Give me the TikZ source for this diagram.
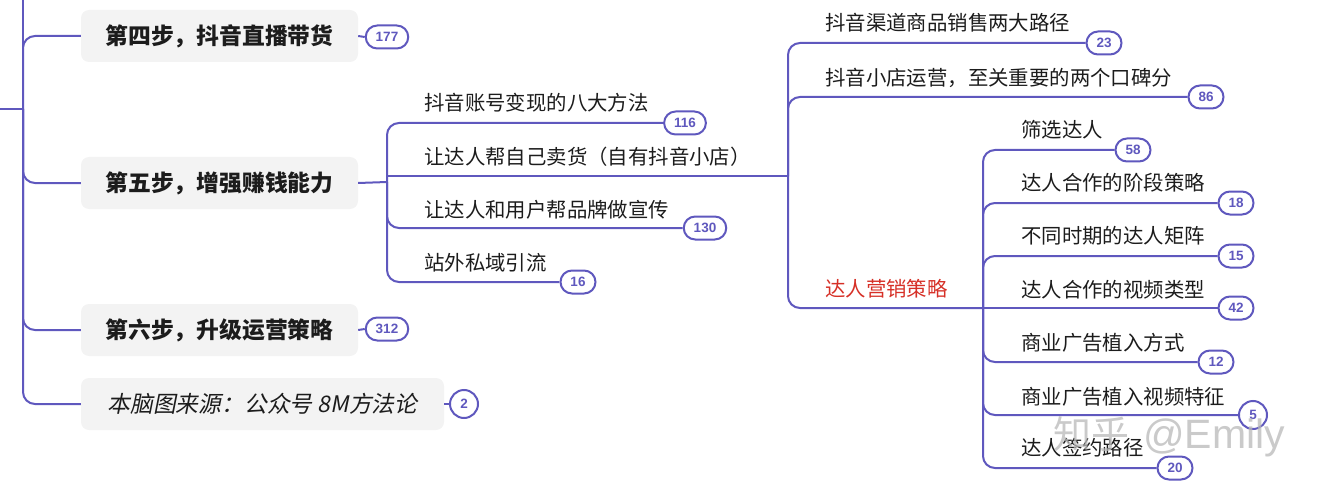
\documentclass[tikz,border=0pt]{standalone}
\usepackage{fontspec}
\setmainfont{Noto Sans CJK SC}
\newfontfamily\badgefont{Liberation Sans}
\newfontfamily\itfont[FakeSlant=0.2]{Noto Sans CJK SC}
\definecolor{linec}{RGB}{95,88,190}
\definecolor{boxg}{RGB}{243,243,243}
\definecolor{txt}{RGB}{28,28,28}
\definecolor{redt}{RGB}{214,48,39}
\tikzset{
  conn/.style={draw=linec, line width=2pt, rounded corners=12pt},
  mainbox/.style={fill=boxg, rounded corners=8pt, minimum height=52pt, text=txt,
    font=\fontsize{22.8}{26}\selectfont\bfseries, inner sep=0pt},
  item/.style={anchor=west, text=txt, font=\fontsize{20.4}{24}\selectfont, inner sep=0pt},
  badge/.style={draw=linec, line width=2pt, fill=white, rounded corners=11.5pt,
    minimum height=23pt, inner xsep=10pt, inner ysep=0pt, text=linec,
    font=\badgefont\fontsize{13.5}{14}\selectfont\bfseries},
  badgec/.style={draw=linec, line width=2pt, fill=white, circle, minimum size=28pt,
    inner sep=0pt, text=linec, font=\badgefont\fontsize{13.5}{14}\selectfont\bfseries},
}
\begin{document}
\begin{tikzpicture}[x=1pt,y=-1pt]
\useasboundingbox (0,0) rectangle (1320,500);

% level 0 trunk
\coordinate (trunk) at (23,109);
\coordinate (top) at (23,0);
\coordinate (left) at (0,109);
\draw[conn] (left) -- (trunk);
\draw[conn] (top) -- (trunk);

\node[mainbox, minimum width=277pt] (s4) at (219.5,36) {第四步，抖音直播带货};
\node[mainbox, minimum width=277pt] (s5) at (219.5,183) {第五步，增强赚钱能力};
\node[mainbox, minimum width=277pt] (s6) at (219.5,330) {第六步，升级运营策略};
\node[mainbox, minimum width=363pt, font=\fontsize{22.8}{26}\selectfont\itfont] (src) at (262.5,404) {本脑图来源：公众号 8M方法论};

\node[badge] (b4) at (387,37) {177};
\node[badge] (b6) at (387,329) {312};
\node[badgec] (bsrc) at (464,404) {2};

\draw[conn] (trunk) |- (s4.west);
\draw[conn] (trunk) |- (s5.west);
\draw[conn] (trunk) |- (s6.west);
\draw[conn] (trunk) |- (src.west);
\draw[conn] (s4.east) -- (b4.west);
\draw[conn] (s6.east) -- (b6.west);
\draw[conn] (src.east) -- (bsrc.west);

% level 1 (第五步)
\coordinate (j1) at (387,182);
\coordinate (j1m) at (387,176);
\coordinate (j2) at (788,176);
\draw[conn] (s5.east) -- (j1);

\node[item] (t11) at (424,103) {抖音账号变现的八大方法};
\node[item] (t12) at (424,157) {让达人帮自己卖货（自有抖音小店）};
\node[item] (t13) at (424,210) {让达人和用户帮品牌做宣传};
\node[item] (t14) at (424,263) {站外私域引流};
\node[badge] (b11) at (685,123) {116};
\node[badge] (b13) at (705,228) {130};
\node[badge] (b14) at (578,282) {16};

\draw[conn] (j1) |- (b11.west);
\draw[conn] (j1m) -- (j2);
\draw[conn] (j1) |- (b13.west);
\draw[conn] (j1) |- (b14.west);

% level 2
\coordinate (j3) at (983,308);
\node[item] (t21) at (825,23) {抖音渠道商品销售两大路径};
\node[item] (t22) at (825,78) {抖音小店运营，至关重要的两个口碑分};
\node[item, text=redt] (t23) at (825,289) {达人营销策略};
\node[badge] (b21) at (1104,43) {23};
\node[badge] (b22) at (1206,97) {86};

\draw[conn] (j2) |- (b21.west);
\draw[conn] (j2) |- (b22.west);
\draw[conn] (j2) |- (j3);

% level 3
\node[item] (t31) at (1021,130) {筛选达人};
\node[item] (t32) at (1021,183) {达人合作的阶段策略};
\node[item] (t33) at (1021,236) {不同时期的达人矩阵};
\node[item] (t34) at (1021,290) {达人合作的视频类型};
\node[item] (t35) at (1021,343) {商业广告植入方式};
\node[item] (t36) at (1021,397) {商业广告植入视频特征};
\node[item] (t37) at (1021,448) {达人签约路径};
\node[badge] (b31) at (1133,150) {58};
\node[badge] (b32) at (1236,203) {18};
\node[badge] (b33) at (1236,256) {15};
\node[badge] (b34) at (1236,308) {42};
\node[badge] (b35) at (1216,362) {12};
\node[badgec] (b36) at (1253,415) {5};
\node[badge] (b37) at (1175,468) {20};

\draw[conn] (j3) |- (b31.west);
\draw[conn] (j3) |- (b32.west);
\draw[conn] (j3) |- (b33.west);
\draw[conn] (j3) -- (b34.west);
\draw[conn] (j3) |- (b35.west);
\draw[conn] (j3) |- (b36.west);
\draw[conn] (j3) |- (b37.west);

% watermark
\node[anchor=west, text=black!28, opacity=0.75, inner sep=0pt,
  font=\fontsize{38}{40}\selectfont] (wm) at (1053,437) {知乎\hspace{14pt}{\badgefont\fontsize{41}{44}\selectfont @Emily}};
\end{tikzpicture}
\end{document}
